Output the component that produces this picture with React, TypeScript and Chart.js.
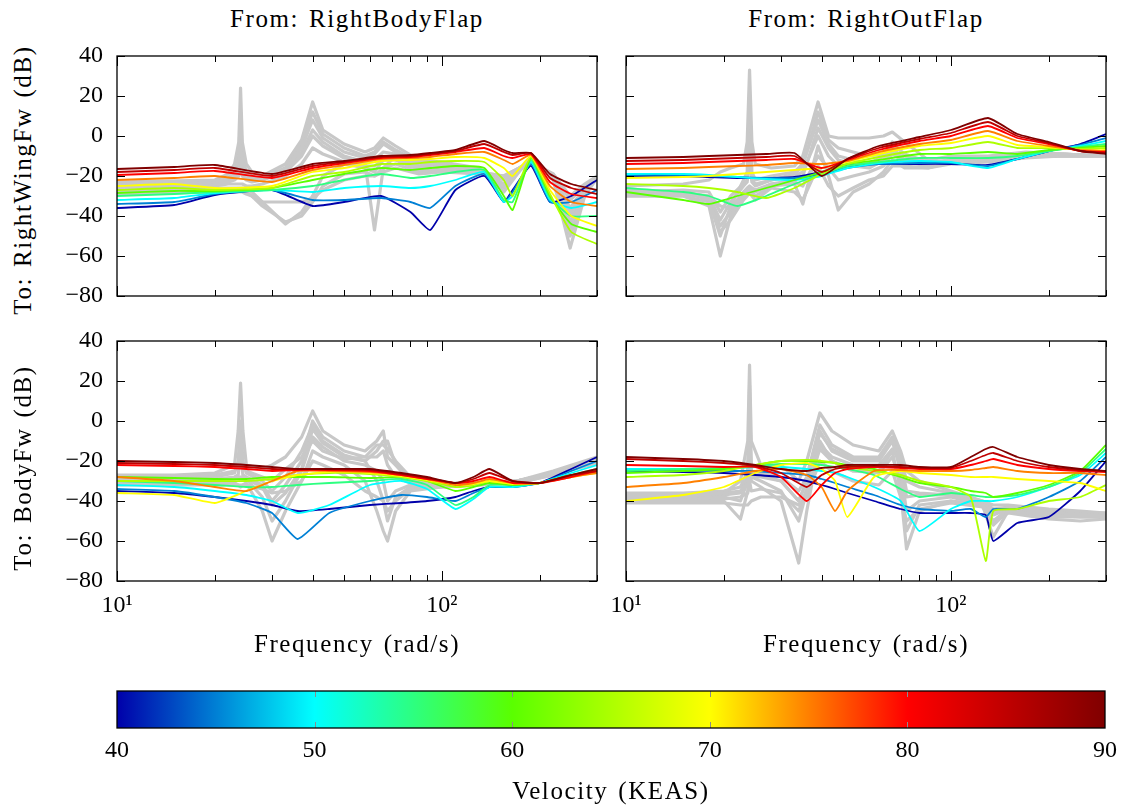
import React, { useEffect, useRef } from 'react';
import { Chart, registerables } from 'chart.js';

Chart.register(...registerables);

const FONT = '"Liberation Serif", "Times New Roman", serif';

// ---------- shared axis / legend data ----------
const velocities = [40, 45, 50, 55, 60, 65, 70, 75, 80, 85, 90];
const yTickValues = [40, 20, 0, -20, -40, -60, -80];
const xMajorTicks = [10, 100];
const xMinorTicks = [20, 30, 40, 50, 60, 70, 80, 90, 200, 300];
const colorbarTicks = [40, 50, 60, 70, 80, 90];
const colTitles = ['From: RightBodyFlap', 'From: RightOutFlap'];
const rowTitles = ['To: RightWingFw (dB)', 'To: BodyFw (dB)'];
const xAxisTitle = 'Frequency (rad/s)';
const colorbarTitle = 'Velocity (KEAS)';

// ---------- top-left: RightBodyFlap -> RightWingFw ----------
const tlFreq = [10, 15, 20, 30, 40, 50, 65, 80, 92, 110, 135, 155, 165, 188, 215, 250, 300];
const tlColored = [
  [-36, -34.5, -29.5, -27, -35, -33, -30, -38, -47, -27, -20, -33, -27, -15, -33, -30, -22],
  [-34, -33, -29, -27, -32, -32, -31, -33, -36, -25, -19, -33, -28, -14, -33, -33, -27],
  [-32, -31, -28.5, -27, -28, -26, -25, -26, -25, -22, -18, -33, -30, -13, -32, -36, -33],
  [-30, -29, -28, -27, -25, -22, -19, -21, -20, -18, -17, -32, -33, -12, -31, -40, -40],
  [-28.5, -27.5, -27.5, -26, -22, -19, -16, -17, -16, -15, -16, -30, -37, -11, -30, -44, -48],
  [-27, -26, -27, -26, -20, -18, -14, -14, -13, -12.5, -13, -22, -30, -10.5, -29, -48, -54],
  [-25, -24, -26, -25, -18, -16, -12.5, -12, -11.5, -10.5, -11, -16, -20, -10, -27, -40, -45],
  [-22, -21, -20, -23, -17, -14.5, -11.5, -11, -10.5, -9, -8, -12, -14, -9.5, -25, -33, -35],
  [-19.5, -18.5, -17.5, -21, -16, -13.5, -11, -10.5, -9.5, -8, -6, -10, -11, -9, -23, -29, -31],
  [-18, -17, -16, -20, -15, -13, -10.5, -10, -9, -7.5, -4, -8, -9.5, -8.5, -21, -26, -29],
  [-16.5, -15.5, -14.5, -19, -14, -12.5, -10, -9.5, -8.5, -7, -2.5, -7, -8.5, -8.5, -19, -24, -27],
];
const tlGrayFreq = [10, 20, 22, 23, 23.7, 24, 24.3, 25, 26, 28, 33, 37, 40, 43, 50, 58, 62, 66, 72, 85, 100, 130, 155, 188, 220, 248, 275, 300];
const tlGray = [
  [-23, -22, -19, -14, -3, 24, -3, -14, -18, -20, -14, -2, 17, 3, -4, -8, -6, -1, -5, -12, -13, -16, -28, -10, -22, -56, -30, -21],
  [-24, -23, -21, -18, -10, 12, -10, -18, -20, -21, -16, -6, 8, -1, -8, -11, -9, -4, -8, -14, -14, -17, -25, -11, -21, -46, -28, -21],
  [-25, -24, -23, -22, -20, 0, -20, -22, -23, -22, -18, -10, 0, -5, -11, -14, -47, -16, -10, -16, -15, -17, -22, -12, -20, -40, -27, -20],
  [-27, -26, -26, -26, -26, -26, -26, -27, -28, -33, -44, -38, -30, -20, -14, -16, -18, -12, -12, -17, -16, -18, -20, -13, -20, -36, -26, -20],
  [-29, -28, -28, -28, -28, -28, -28, -29, -30, -35, -43, -40, -33, -25, -19, -18, -20, -16, -14, -18, -17, -18, -20, -13, -19, -32, -25, -20],
  [-28, -27, -27, -27, -27, -27, -27, -28, -30, -33, -33, -33, -31, -27, -22, -20, -20, -18, -16, -19, -18, -19, -21, -14, -19, -30, -24, -20],
  [-24, -23, -22, -21, -15, 5, -15, -21, -22, -22, -17, -8, 3, -3, -10, -13, -12, -8, -9, -15, -15, -17, -24, -12, -21, -43, -28, -21],
  [-24, -23, -22, -20, -18, -10, -18, -20, -21, -21, -16, -4, 12, 1, -6, -10, -8, -3, -7, -13, -14, -17, -26, -11, -21, -50, -29, -21],
  [-26, -25, -24, -24, -24, -24, -24, -25, -25, -24, -20, -14, -6, -9, -13, -15, -15, -12, -11, -16, -16, -18, -21, -12, -20, -38, -26, -20],
];

// ---------- top-right: RightOutFlap -> RightWingFw ----------
const trFreq = [10, 15, 18, 22, 27, 33, 40, 48, 60, 80, 100, 130, 160, 200, 250, 300];
const trColored = [
  [-20, -20, -20.5, -21, -21, -20.5, -18, -15, -14, -14, -14, -14.5, -11.5, -7.5, -4, 1],
  [-19.5, -19.5, -20, -20.5, -21, -21, -19, -16, -14, -13.5, -13.5, -15, -11.5, -7.5, -4.5, -1],
  [-19, -19, -19.5, -20.5, -21.5, -22, -20, -16, -13.5, -12.5, -13, -16, -11.5, -7.5, -5, -2.5],
  [-26, -28, -30, -35, -30, -24, -19, -15, -13, -11, -11, -11, -10, -7.5, -5.5, -4],
  [-28, -32, -34, -30, -26, -22, -18, -14, -12, -9, -9, -8, -9, -7, -6, -5],
  [-24, -25, -26, -28, -31, -26, -19, -14, -10.5, -7, -6, -3, -6, -6, -6.5, -6],
  [-21, -20.5, -20, -19, -18, -17, -16, -13, -9, -5, -3.5, 0, -4.5, -5.5, -7, -7],
  [-16.5, -16, -15.5, -15, -14.5, -13.5, -14, -12.5, -8, -4, -2, 2.5, -2.5, -5, -7, -7.5],
  [-14, -13.5, -13, -12.5, -12, -11.5, -16, -12, -7, -2.5, 0, 5, -1, -4, -7.5, -8],
  [-12.5, -12, -11.5, -11, -10.5, -10, -18, -11.5, -6, -1.5, 1.5, 7, 0, -3.5, -7.5, -8.5],
  [-11, -10.5, -10, -9.5, -9, -8.5, -20, -11.5, -5, -0.5, 3, 9, 1, -3, -7.5, -9],
];
const trGrayFreq = [10, 15, 18, 19.5, 21, 23, 23.6, 24, 24.4, 25, 28, 33, 35, 39, 42, 45, 50, 56, 62, 66, 72, 85, 100, 130, 170, 220, 300];
const trGray = [
  [-25, -24, -22, -18, -16, -14, -3, 33, -3, -14, -16, -15, -10, 17, 0, -1, -1, -1, 0, 2, -3, -12, -10, -10, -8, -9, -10],
  [-27, -28, -32, -50, -35, -22, -18, 20, -18, -22, -20, -18, -14, 8, -4, -10, -12, -14, -10, -3, -10, -14, -12, -11, -9, -9, -10],
  [-30, -30, -35, -60, -40, -30, -28, -26, -28, -30, -25, -24, -34, -5, -20, -37, -28, -24, -18, -12, -16, -16, -13, -12, -10, -10, -10],
  [-30, -30, -33, -48, -42, -32, -30, -28, -30, -32, -26, -28, -32, -15, -25, -30, -26, -22, -20, -15, -15, -16, -14, -13, -11, -10, -10],
  [-28, -27, -28, -38, -30, -24, -22, 0, -22, -24, -22, -20, -18, 0, -10, -15, -15, -16, -12, -6, -12, -15, -12, -11, -9, -9, -10],
  [-29, -29, -30, -35, -36, -28, -26, -25, -26, -27, -24, -23, -25, -10, -16, -22, -20, -18, -15, -9, -13, -15, -13, -12, -10, -10, -10],
  [-28, -28, -30, -42, -33, -25, -23, -10, -23, -25, -22, -19, -15, 12, -2, -6, -8, -10, -9, -4, -9, -13, -12, -11, -9, -9, -10],
  [-29, -29, -31, -45, -38, -28, -27, -26, -27, -28, -24, -22, -20, 4, -6, -12, -14, -15, -13, -8, -12, -14, -12, -11, -10, -10, -10],
];

// ---------- bottom-left: RightBodyFlap -> BodyFw ----------
const blFreq = [10, 15, 20, 25, 30, 36, 45, 60, 75, 90, 110, 125, 140, 165, 200, 250, 300];
const blColored = [
  [-35, -36, -38, -40, -42, -45, -44, -42, -41, -40, -38, -35, -33, -33, -31, -24, -18],
  [-34, -35, -38, -41, -46, -59, -46, -40, -37, -38, -40, -36, -33, -33, -31, -25, -20],
  [-32, -33, -35, -37, -40, -46, -42, -32, -30, -34, -44, -39, -33, -33, -31, -26, -22],
  [-30, -31, -32, -33, -33, -32, -31, -30, -29, -32, -42, -38, -32, -32, -31, -27, -24],
  [-28, -28.5, -29, -29, -28, -28, -28, -28.5, -28, -30, -35, -33, -31, -32, -31, -27, -25],
  [-30, -30, -30, -30, -29, -27, -26, -26.5, -28, -30, -33, -32, -30, -31.5, -31, -27.5, -25.5],
  [-36, -37, -41, -35, -30, -27, -25.5, -26, -27.5, -29.5, -32, -31.5, -30, -31.5, -31, -28, -26],
  [-28, -30, -33, -35, -30, -25, -25, -25.5, -27, -29, -32, -31, -29, -31, -31, -28, -26],
  [-22, -22.5, -23, -24, -25, -24.5, -24.5, -25, -27, -29, -31, -30, -28, -31, -31, -28, -25],
  [-21, -21.5, -22, -23, -24, -24, -24, -24.5, -26.5, -28.5, -31, -29, -26, -30, -31, -27, -25],
  [-20, -20.5, -21, -22, -23, -24, -24, -24, -26, -28, -31, -28, -24, -30, -31, -27, -24],
];
const blGrayFreq = [10, 15, 20, 23, 23.6, 24, 24.4, 25, 28, 30, 33, 37, 40, 43, 50, 58, 63, 66, 68, 72, 80, 100, 130, 170, 220, 300];
const blGray = [
  [-27, -27, -26, -22, -5, 19, -5, -22, -24, -22, -18, -8, 5, -5, -12, -15, -10, -5, -18, -22, -30, -32, -31, -30, -26, -20],
  [-29, -29, -28, -26, -20, 0, -20, -26, -30, -35, -28, -15, -2, -10, -17, -20, -15, -10, -10, -22, -30, -32, -31, -30, -26, -20],
  [-31, -31, -31, -31, -32, -33, -32, -31, -45, -60, -45, -30, -15, -18, -22, -30, -45, -55, -60, -45, -35, -33, -32, -31, -27, -20],
  [-30, -30, -30, -29, -28, -28, -28, -29, -38, -50, -40, -25, -8, -13, -20, -22, -25, -30, -40, -35, -32, -32, -31, -30, -26, -19],
  [-28, -28, -27, -25, -22, -10, -22, -25, -28, -30, -24, -18, -10, -15, -19, -18, -12, -12, -14, -20, -28, -31, -31, -30, -25, -18],
  [-32, -32, -32, -32, -32, -32, -32, -32, -34, -36, -35, -30, -20, -22, -27, -35, -38, -40, -45, -40, -34, -33, -32, -31, -27, -21],
  [-29, -29, -29, -28, -27, -15, -27, -28, -32, -40, -32, -20, 0, -8, -15, -18, -18, -15, -22, -28, -31, -32, -31, -30, -26, -20],
  [-30, -30, -30, -29, -29, -29, -29, -29, -33, -42, -36, -24, -4, -11, -18, -20, -30, -40, -50, -38, -33, -32, -31, -30, -26, -20],
];

// ---------- bottom-right: RightOutFlap -> BodyFw ----------
const brFreq = [10, 15, 20, 25, 30, 36, 40, 44, 48, 58, 70, 80, 100, 115, 128, 135, 160, 200, 250, 300];
const brColored = [
  [-25, -25.5, -26, -27, -28, -30, -32, -34, -36, -40, -44, -46, -46, -46, -47, -60, -51, -48, -35, -20],
  [-24, -24.5, -25, -25, -26, -27, -29, -31, -33, -37, -42, -44, -45, -44, -48, -44, -44, -38, -30, -18],
  [-24, -24, -24, -23, -23, -24, -25, -26, -28, -33, -40, -55, -44, -40, -40, -40, -38, -33, -27, -16],
  [-25, -24, -23.5, -22.5, -21.5, -21.5, -22, -23, -24, -27, -34, -38, -36, -37, -38, -38, -37, -33, -26, -14],
  [-26, -25, -24, -22, -20, -20, -20.5, -21, -22, -24, -28, -31, -33, -35, -36, -38, -36, -32, -25, -12],
  [-28, -27, -25, -22, -20, -19.5, -20, -21, -23, -25, -27, -30, -33, -38, -70, -45, -44, -40, -38, -32],
  [-40, -37, -33, -26, -22, -21, -24, -30, -48, -28, -25, -26, -27, -28, -28, -28, -29, -30, -31, -35],
  [-33, -31, -28, -25, -24, -27, -33, -45, -35, -25, -24.5, -25, -25, -24.5, -23.5, -23, -25, -26, -26, -27],
  [-22, -22.5, -23, -23, -28, -40, -32, -26, -24, -23, -23.5, -24, -24, -22, -20, -19, -22, -24, -25, -25.5],
  [-19, -20, -21, -22.5, -26, -33, -27, -24, -23, -22.5, -23, -23.5, -23.5, -20, -17, -16, -20, -23, -24.5, -25],
  [-18, -19, -20, -22, -24, -25, -23.5, -23, -22, -22, -22, -23, -23, -18, -14, -13, -18, -22, -24, -25],
];
const brGrayFreq = [10, 15, 20, 22.5, 23.7, 24, 24.3, 26, 30, 34, 36, 39.5, 43, 50, 60, 66, 70, 73, 80, 100, 125, 135, 150, 200, 250, 300];
const brGray = [
  [-38, -38, -36, -30, -10, 28, -10, -22, -22, -30, -20, 4, -5, -12, -15, -5, -15, -25, -30, -35, -40, -42, -42, -44, -45, -46],
  [-40, -40, -40, -49, -35, -20, -30, -33, -40, -71, -45, -10, -20, -25, -25, -15, -35, -64, -45, -40, -42, -58, -45, -47, -48, -48],
  [-39, -39, -38, -40, -30, 0, -28, -30, -35, -50, -35, -5, -15, -20, -20, -10, -25, -45, -40, -38, -42, -50, -44, -46, -47, -47],
  [-37, -37, -36, -35, -30, -15, -28, -28, -30, -40, -30, -12, -18, -22, -22, -14, -20, -35, -36, -37, -41, -46, -43, -45, -46, -47],
  [-41, -41, -41, -42, -42, -41, -40, -38, -38, -42, -38, -20, -25, -30, -32, -25, -38, -50, -44, -41, -43, -50, -46, -49, -50, -49],
  [-36, -36, -35, -33, -25, 10, -25, -26, -28, -35, -28, -2, -12, -18, -18, -8, -18, -30, -33, -36, -40, -44, -43, -45, -46, -46],
  [-38, -38, -37, -36, -28, 18, -28, -27, -30, -40, -30, -6, -14, -19, -19, -9, -20, -38, -37, -37, -41, -47, -44, -46, -47, -47],
  [-40, -40, -39, -38, -36, -30, -35, -34, -36, -45, -34, -14, -20, -25, -26, -18, -30, -55, -42, -40, -42, -52, -45, -48, -48, -48],
];

// ---------- styling ----------
const cmapStops: [number, number[]][] = [
  [40, [0, 0, 170]],
  [50, [0, 255, 255]],
  [60, [90, 255, 0]],
  [70, [255, 255, 0]],
  [80, [255, 0, 0]],
  [90, [128, 0, 0]],
];
function cmap(v: number): string {
  for (let i = 0; i < cmapStops.length - 1; i++) {
    const [v0, c0] = cmapStops[i];
    const [v1, c1] = cmapStops[i + 1];
    if (v <= v1 || i === cmapStops.length - 2) {
      const t = Math.max(0, Math.min(1, (v - v0) / (v1 - v0)));
      const c = c0.map((a, k) => Math.round(a + (c1[k] - a) * t));
      return `rgb(${c[0]},${c[1]},${c[2]})`;
    }
  }
  return '#000';
}

const PLOT_W = 480;
const PLOT_H = 240;
const PAD_L = 70;
const PAD_R = 14;
const PAD_T = 14;
const PAD_B = 50;
const GRAY = '#c8c8c8';

const axesFrame = {
  id: 'axesFrame',
  afterDatasetsDraw(chart: any) {
    const { ctx, chartArea: a, scales } = chart;
    const xs = scales.x;
    const ys = scales.y;
    ctx.save();
    ctx.strokeStyle = '#000';
    ctx.lineWidth = 1;
    ctx.beginPath();
    const xt = (v: number, len: number) => {
      const px = Math.round(xs.getPixelForValue(v)) + 0.5;
      ctx.moveTo(px, a.bottom);
      ctx.lineTo(px, a.bottom - len);
      ctx.moveTo(px, a.top);
      ctx.lineTo(px, a.top + len);
    };
    xMajorTicks.forEach((v) => xt(v, 10));
    xMinorTicks.forEach((v) => xt(v, 6));
    yTickValues.forEach((v) => {
      const py = Math.round(ys.getPixelForValue(v)) + 0.5;
      ctx.moveTo(a.left, py);
      ctx.lineTo(a.left + 8, py);
      ctx.moveTo(a.right, py);
      ctx.lineTo(a.right - 8, py);
    });
    ctx.stroke();
    ctx.lineWidth = 1.3;
    ctx.strokeRect(a.left, a.top, a.right - a.left, a.bottom - a.top);
    ctx.restore();
  },
};

type PanelProps = {
  left: number;
  top: number;
  freq: number[];
  rows: number[][];
  grayFreq: number[];
  grayRows: number[][];
  showX: boolean;
  showY: boolean;
};

function Panel({ left, top, freq, rows, grayFreq, grayRows, showX, showY }: PanelProps) {
  const ref = useRef<HTMLCanvasElement>(null);
  const W = PLOT_W + PAD_L + PAD_R;
  const H = PLOT_H + PAD_T + PAD_B;
  useEffect(() => {
    const datasets: any[] = [];
    // Chart.js draws datasets with a higher `order` first (underneath).
    grayRows.forEach((r, k) =>
      datasets.push({
        data: grayFreq.map((f, i) => ({ x: f, y: r[i] })),
        borderColor: GRAY,
        borderWidth: 3.2,
        pointRadius: 0,
        tension: 0,
        borderJoinStyle: 'round',
        order: 100 + k,
      })
    );
    rows.forEach((r, k) =>
      datasets.push({
        data: freq.map((f, i) => ({ x: f, y: r[i] })),
        borderColor: cmap(velocities[k]),
        borderWidth: 1.8,
        pointRadius: 0,
        tension: 0.15,
        order: 50 - k,
      })
    );
    const chart = new Chart(ref.current as HTMLCanvasElement, {
      type: 'line',
      data: { datasets },
      options: {
        animation: false,
        responsive: false,
        events: [],
        layout: { padding: { left: 0, right: PAD_R, top: PAD_T, bottom: 0 } },
        plugins: { legend: { display: false }, tooltip: { enabled: false } },
        scales: {
          x: {
            type: 'logarithmic',
            min: 10,
            max: 300,
            grid: { display: false, drawTicks: false },
            border: { display: false },
            afterBuildTicks: (s: any) => {
              s.ticks = xMajorTicks.map((v) => ({ value: v }));
            },
            afterFit: (s: any) => {
              s.height = PAD_B;
              s.paddingLeft = 0;
              s.paddingRight = 0;
            },
            ticks: {
              display: showX,
              autoSkip: false,
              maxRotation: 0,
              padding: 10,
              color: '#000',
              font: { family: FONT, size: 24 },
              callback: (v: any) => (v === 10 ? '10\u00b9' : v === 100 ? '10\u00b2' : ''),
            },
          },
          y: {
            type: 'linear',
            min: -80,
            max: 40,
            grid: { display: false, drawTicks: false },
            border: { display: false },
            afterBuildTicks: (s: any) => {
              s.ticks = yTickValues.map((v) => ({ value: v }));
            },
            afterFit: (s: any) => {
              s.width = PAD_L;
              s.paddingTop = 0;
              s.paddingBottom = 0;
            },
            ticks: {
              display: showY,
              padding: 14,
              color: '#000',
              font: { family: FONT, size: 24 },
              callback: (v: any) => (v < 0 ? '\u2212' + Math.abs(v) : String(v)),
            },
          },
        },
      } as any,
      plugins: [axesFrame],
    });
    return () => chart.destroy();
  }, []);
  return (
    <canvas
      ref={ref}
      width={W}
      height={H}
      style={{ position: 'absolute', left: left - PAD_L, top: top - PAD_T, width: W, height: H }}
    />
  );
}

const CB_LEFT = 117;
const CB_TOP = 691;
const CB_W = 988;
const CB_H = 37;
const CB_PAD = 40;
const CB_PAD_B = 50;

const colorbarPlugin = {
  id: 'colorbar',
  beforeDatasetsDraw(chart: any) {
    const { ctx, chartArea: a, scales } = chart;
    const xs = scales.x;
    ctx.save();
    const g = ctx.createLinearGradient(a.left, 0, a.right, 0);
    cmapStops.forEach(([v, c]) => {
      g.addColorStop((v - 40) / 50, `rgb(${c[0]},${c[1]},${c[2]})`);
    });
    ctx.fillStyle = g;
    ctx.fillRect(a.left, a.top, a.right - a.left, a.bottom - a.top);
    ctx.strokeStyle = '#8c8c8c';
    ctx.lineWidth = 1;
    ctx.beginPath();
    colorbarTicks.slice(1, -1).forEach((v) => {
      const px = Math.round(xs.getPixelForValue(v)) + 0.5;
      ctx.moveTo(px, a.top);
      ctx.lineTo(px, a.top + 6);
      ctx.moveTo(px, a.bottom);
      ctx.lineTo(px, a.bottom - 6);
    });
    ctx.stroke();
    ctx.strokeStyle = '#000';
    ctx.lineWidth = 1.3;
    ctx.strokeRect(a.left, a.top, a.right - a.left, a.bottom - a.top);
    ctx.restore();
  },
};

function Colorbar() {
  const ref = useRef<HTMLCanvasElement>(null);
  const W = CB_W + 2 * CB_PAD;
  const H = CB_H + 6 + CB_PAD_B;
  useEffect(() => {
    const chart = new Chart(ref.current as HTMLCanvasElement, {
      type: 'line',
      data: { datasets: [] },
      options: {
        animation: false,
        responsive: false,
        events: [],
        layout: { padding: { left: CB_PAD, right: CB_PAD, top: 6, bottom: 0 } },
        plugins: { legend: { display: false }, tooltip: { enabled: false } },
        scales: {
          x: {
            type: 'linear',
            min: 40,
            max: 90,
            grid: { display: false, drawTicks: false },
            border: { display: false },
            afterBuildTicks: (s: any) => {
              s.ticks = colorbarTicks.map((v) => ({ value: v }));
            },
            afterFit: (s: any) => {
              s.height = CB_PAD_B;
              s.paddingLeft = 0;
              s.paddingRight = 0;
            },
            ticks: {
              autoSkip: false,
              maxRotation: 0,
              padding: 8,
              color: '#000',
              font: { family: FONT, size: 24 },
            },
          },
          y: { display: false, min: 0, max: 1 },
        },
      } as any,
      plugins: [colorbarPlugin],
    });
    return () => chart.destroy();
  }, []);
  return (
    <canvas
      ref={ref}
      width={W}
      height={H}
      style={{ position: 'absolute', left: CB_LEFT - CB_PAD, top: CB_TOP - 6, width: W, height: H }}
    />
  );
}

const textStyle: React.CSSProperties = {
  position: 'absolute',
  fontFamily: FONT,
  fontSize: 25,
  letterSpacing: '1.6px',
  wordSpacing: '2px',
  lineHeight: 1,
  color: '#000',
  whiteSpace: 'nowrap',
};

function Label({ x, y, text, rotate }: { x: number; y: number; text: string; rotate?: boolean }) {
  return (
    <div
      style={{
        ...textStyle,
        left: x,
        top: y,
        transform: `translate(-50%, -50%)${rotate ? ' rotate(-90deg)' : ''}`,
      }}
    >
      {text}
    </div>
  );
}

export default function App() {
  const colX = [117, 626];
  const rowY = [56, 341];
  return (
    <div style={{ position: 'absolute', left: 0, top: 0, width: 1130, height: 805, background: '#fff', overflow: 'hidden' }}>
      <Panel left={colX[0]} top={rowY[0]} freq={tlFreq} rows={tlColored} grayFreq={tlGrayFreq} grayRows={tlGray} showX={false} showY={true} />
      <Panel left={colX[1]} top={rowY[0]} freq={trFreq} rows={trColored} grayFreq={trGrayFreq} grayRows={trGray} showX={false} showY={false} />
      <Panel left={colX[0]} top={rowY[1]} freq={blFreq} rows={blColored} grayFreq={blGrayFreq} grayRows={blGray} showX={true} showY={true} />
      <Panel left={colX[1]} top={rowY[1]} freq={brFreq} rows={brColored} grayFreq={brGrayFreq} grayRows={brGray} showX={true} showY={false} />
      <Colorbar />
      <Label x={357} y={18} text={colTitles[0]} />
      <Label x={866} y={18} text={colTitles[1]} />
      <Label x={22} y={180} text={rowTitles[0]} rotate />
      <Label x={22} y={468} text={rowTitles[1]} rotate />
      <Label x={357} y={643} text={xAxisTitle} />
      <Label x={866} y={643} text={xAxisTitle} />
      <Label x={611} y={790} text={colorbarTitle} />
    </div>
  );
}
